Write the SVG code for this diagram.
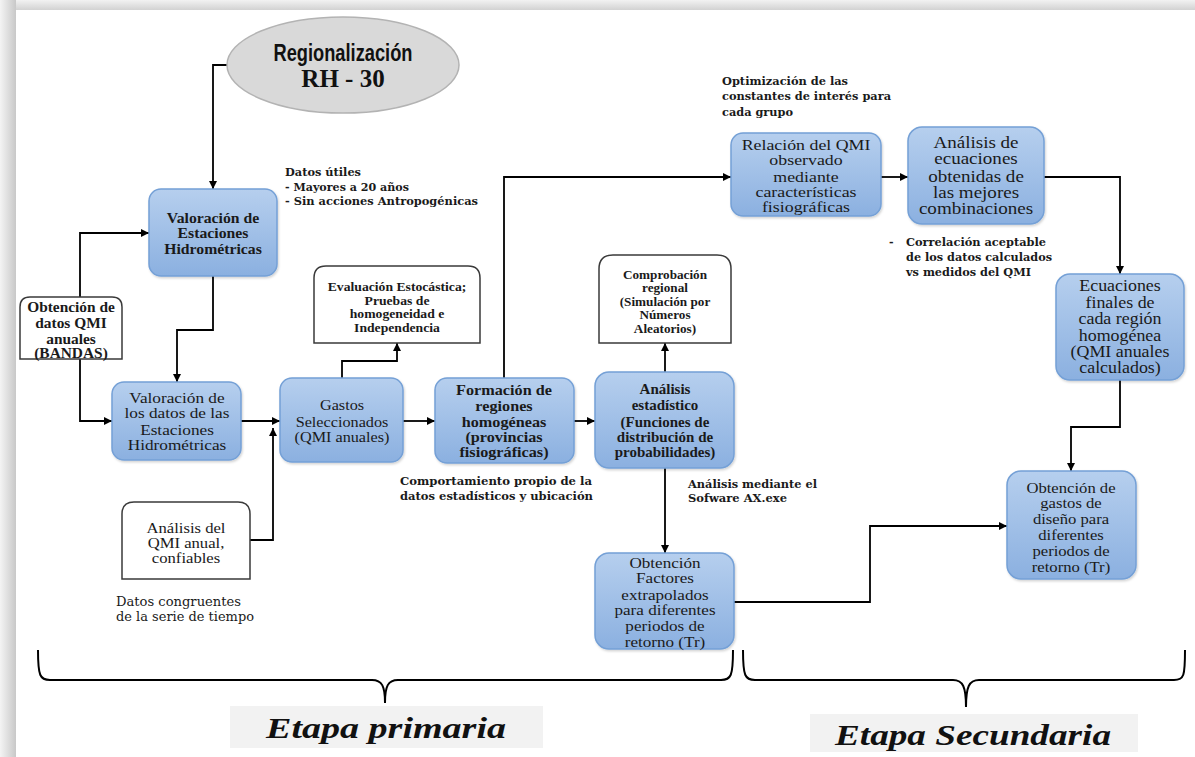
<svg xmlns="http://www.w3.org/2000/svg" width="1195" height="757" viewBox="0 0 1195 757">
<defs>
<linearGradient id="blue" x1="0" y1="0" x2="0" y2="1">
<stop offset="0" stop-color="#b6cfee"/>
<stop offset="1" stop-color="#8bb0e0"/>
</linearGradient>
<linearGradient id="leftEdge" x1="0" y1="0" x2="1" y2="0">
<stop offset="0" stop-color="#f4f4f4"/>
<stop offset="1" stop-color="#c8c8c8"/>
</linearGradient>
<linearGradient id="topEdge" x1="0" y1="0" x2="0" y2="1">
<stop offset="0" stop-color="#f2f2f2"/>
<stop offset="1" stop-color="#d2d2d2"/>
</linearGradient>
<filter id="sh" x="-10%" y="-10%" width="125%" height="125%">
<feDropShadow dx="1" dy="1.5" stdDeviation="1.2" flood-color="#000" flood-opacity="0.18"/>
</filter>
<marker id="arr" markerUnits="userSpaceOnUse" markerWidth="9" markerHeight="8" viewBox="0 0 10 10" refX="10" refY="5" orient="auto">
<path d="M0,0 L10,5 L0,10 z" fill="#000"/>
</marker>
<style>
.bx{fill:url(#blue);stroke:#74a0d6;stroke-width:1.5;filter:url(#sh)}
.wb{fill:#fff;stroke:#3a3a3a;stroke-width:1.5}
.c{fill:none;stroke:#000;stroke-width:1.8}
.t{font-family:"Liberation Serif",serif;font-size:15px;fill:#1a1a1a;text-anchor:middle}
.b{font-weight:bold}
.s{font-family:"Liberation Serif",serif;font-size:12px;font-weight:bold;fill:#1a1a1a;text-anchor:middle}
.a{font-family:"DejaVu Serif",serif;font-size:11.5px;font-weight:bold;fill:#1a1a1a}
.br{fill:none;stroke:#000;stroke-width:2}
.et{font-family:"Liberation Serif",serif;font-size:30px;font-weight:bold;font-style:italic;fill:#111;text-anchor:middle}
</style>
</defs>
<rect width="1195" height="757" fill="#fff"/>
<rect x="0" y="0" width="1195" height="10" fill="url(#topEdge)"/>
<rect x="0" y="0" width="16" height="757" fill="url(#leftEdge)"/>

<g id="connectors">
<path class="c" d="M227,65 H213 V189" marker-end="url(#arr)"/>
<path class="c" d="M80,297 V233 H149" marker-end="url(#arr)"/>
<path class="c" d="M80,359 V421 H112" marker-end="url(#arr)"/>
<path class="c" d="M213,276 V330 H177 V382" marker-end="url(#arr)"/>
<path class="c" d="M241,421 H280" marker-end="url(#arr)"/>
<path class="c" d="M250,540 H273 V428" marker-end="url(#arr)"/>
<path class="c" d="M342,378 V361 H397 V343" marker-end="url(#arr)"/>
<path class="c" d="M403,421 H435" marker-end="url(#arr)"/>
<path class="c" d="M504,378 V177 H731" marker-end="url(#arr)"/>
<path class="c" d="M574,421 H595" marker-end="url(#arr)"/>
<path class="c" d="M665,372 V343" marker-end="url(#arr)"/>
<path class="c" d="M665,468 V553" marker-end="url(#arr)"/>
<path class="c" d="M734,602 H870 V526 H1007" marker-end="url(#arr)"/>
<path class="c" d="M881,177 H908" marker-end="url(#arr)"/>
<path class="c" d="M1044,177 H1120 V274" marker-end="url(#arr)"/>
<path class="c" d="M1120,380 V427 H1071 V471" marker-end="url(#arr)"/>
</g>

<g id="regionalizacion">
<ellipse cx="343" cy="65" rx="116" ry="48" fill="#d9d9d9" stroke="#b3b3b3" stroke-width="1.5"/>
<text x="343" y="61" font-family="Liberation Sans,Arial,sans-serif" font-size="24" font-weight="bold" fill="#111" text-anchor="middle" textLength="139" lengthAdjust="spacingAndGlyphs">Regionalización</text>
<text x="343" y="87" font-family="Liberation Serif,serif" font-size="25" font-weight="bold" fill="#111" text-anchor="middle">RH - 30</text>
</g>

<g id="valoracion-estaciones">
<rect class="bx" x="149" y="189" width="128" height="87" rx="12"/>
<g transform="translate(213,0) scale(1.05,1)">
<text class="t b" x="0" y="223">Valoración de</text>
<text class="t b" x="0" y="238">Estaciones</text>
<text class="t b" x="0" y="254">Hidrométricas</text>
</g>
</g>

<g id="obtencion-datos">
<path class="wb" d="M20,359 V307 Q20,297 30,297 H112 Q122,297 122,307 V359 Z"/>
<g transform="translate(71,0) scale(1.1,1)">
<text class="t b" x="0" y="312" style="font-size:14px">Obtención de</text>
<text class="t b" x="0" y="328" style="font-size:14px">datos QMI</text>
<text class="t b" x="0" y="344" style="font-size:14px">anuales</text>
<text class="t b" x="0" y="358" style="font-size:14px">(BANDAS)</text>
</g>
</g>

<g id="valoracion-datos">
<rect class="bx" x="112" y="382" width="129" height="78" rx="12"/>
<g transform="translate(177,0) scale(1.15,1)">
<text class="t" x="0" y="403">Valoración  de</text>
<text class="t" x="0" y="418">los datos de las</text>
<text class="t" x="0" y="435">Estaciones</text>
<text class="t" x="0" y="450">Hidrométricas</text>
</g>
</g>

<g id="gastos">
<rect class="bx" x="280" y="378" width="123" height="84" rx="12"/>
<g transform="translate(342,0) scale(1.08,1)">
<text class="t" x="0" y="410">Gastos</text>
<text class="t" x="0" y="427">Seleccionados</text>
<text class="t" x="0" y="442">(QMI anuales)</text>
</g>
</g>

<g id="evaluacion">
<path class="wb" d="M314,343 V278 Q314,266 326,266 H468 Q480,266 480,278 V343 Z"/>
<g transform="translate(397,0) scale(1.14,1)">
<text class="s" x="0" y="291">Evaluación Estocástica;</text>
<text class="s" x="0" y="305">Pruebas de</text>
<text class="s" x="0" y="318">homogeneidad e</text>
<text class="s" x="0" y="332">Independencia</text>
</g>
</g>

<g id="formacion">
<rect class="bx" x="435" y="378" width="139" height="85" rx="12"/>
<g transform="translate(504,0) scale(1.08,1)">
<text class="t b" x="0" y="395">Formación de</text>
<text class="t b" x="0" y="411">regiones</text>
<text class="t b" x="0" y="427">homogéneas</text>
<text class="t b" x="0" y="442">(provincias</text>
<text class="t b" x="0" y="457">fisiográficas)</text>
</g>
</g>

<g id="analisis-qmi">
<path class="wb" d="M122,579 V514 Q122,502 134,502 H238 Q250,502 250,514 V579 Z"/>
<g transform="translate(186,0) scale(1.11,1)">
<text class="t" x="0" y="533">Análisis del</text>
<text class="t" x="0" y="548">QMI anual,</text>
<text class="t" x="0" y="563">confiables</text>
</g>
</g>

<g id="comprobacion">
<path class="wb" d="M599,343 V269 Q599,255 613,255 H717 Q731,255 731,269 V343 Z"/>
<g transform="translate(665,0) scale(1.1,1)">
<text class="s" x="0" y="279">Comprobación</text>
<text class="s" x="0" y="292">regional</text>
<text class="s" x="0" y="306">(Simulación por</text>
<text class="s" x="0" y="319">Números</text>
<text class="s" x="0" y="333">Aleatorios)</text>
</g>
</g>

<g id="analisis-estadistico">
<rect class="bx" x="595" y="372" width="139" height="96" rx="14"/>
<text class="t b" x="665" y="394">Análisis</text>
<text class="t b" x="665" y="410">estadístico</text>
<text class="t b" x="665" y="427">(Funciones de</text>
<text class="t b" x="665" y="442">distribución de</text>
<text class="t b" x="665" y="457">probabilidades)</text>
</g>

<g id="obtencion-factores">
<rect class="bx" x="595" y="553" width="139" height="96" rx="14"/>
<g transform="translate(665,0) scale(1.14,1)">
<text class="t" x="0" y="568">Obtención</text>
<text class="t" x="0" y="583">Factores</text>
<text class="t" x="0" y="600">extrapolados</text>
<text class="t" x="0" y="615">para diferentes</text>
<text class="t" x="0" y="631">periodos de</text>
<text class="t" x="0" y="647">retorno (Tr)</text>
</g>
</g>

<g id="relacion">
<rect class="bx" x="731" y="133" width="150" height="83" rx="12"/>
<g transform="translate(806,0) scale(1.19,1)">
<text class="t" x="0" y="150">Relación del QMI</text>
<text class="t" x="0" y="165">observado</text>
<text class="t" x="0" y="182">mediante</text>
<text class="t" x="0" y="197">características</text>
<text class="t" x="0" y="212">fisiográficas</text>
</g>
</g>

<g id="analisis-ecuaciones">
<rect class="bx" x="908" y="127" width="136" height="97" rx="14"/>
<g transform="translate(976,0) scale(1.19,1)">
<text class="t" x="0" y="148" style="font-size:16px">Análisis de</text>
<text class="t" x="0" y="164" style="font-size:16px">ecuaciones</text>
<text class="t" x="0" y="182" style="font-size:16px">obtenidas de</text>
<text class="t" x="0" y="198" style="font-size:16px">las mejores</text>
<text class="t" x="0" y="214" style="font-size:16px">combinaciones</text>
</g>
</g>

<g id="ecuaciones-finales">
<rect class="bx" x="1056" y="274" width="128" height="106" rx="14"/>
<g transform="translate(1120,0) scale(1.12,1)">
<text class="t" x="0" y="291" style="font-size:16px">Ecuaciones</text>
<text class="t" x="0" y="308" style="font-size:16px">finales de</text>
<text class="t" x="0" y="324" style="font-size:16px">cada región</text>
<text class="t" x="0" y="341" style="font-size:16px">homogénea</text>
<text class="t" x="0" y="357" style="font-size:16px">(QMI anuales</text>
<text class="t" x="0" y="373" style="font-size:16px">calculados)</text>
</g>
</g>

<g id="obtencion-gastos">
<rect class="bx" x="1007" y="471" width="129" height="108" rx="14"/>
<g transform="translate(1071,0) scale(1.11,1)">
<text class="t" x="0" y="493">Obtención de</text>
<text class="t" x="0" y="508">gastos de</text>
<text class="t" x="0" y="524">diseño  para</text>
<text class="t" x="0" y="540">diferentes</text>
<text class="t" x="0" y="556">periodos de</text>
<text class="t" x="0" y="572">retorno (Tr)</text>
</g>
</g>

<g id="annotations">
<text class="a" x="285" y="176" textLength="76" lengthAdjust="spacingAndGlyphs">Datos útiles</text>
<text class="a" x="285" y="191" textLength="124" lengthAdjust="spacingAndGlyphs">- Mayores a 20 años</text>
<text class="a" x="285" y="205" textLength="193" lengthAdjust="spacingAndGlyphs">- Sin acciones Antropogénicas</text>
<text class="a" x="722" y="85" style="font-size:11px" textLength="126" lengthAdjust="spacingAndGlyphs">Optimización de las</text>
<text class="a" x="722" y="100" style="font-size:11px" textLength="169" lengthAdjust="spacingAndGlyphs">constantes de interés para</text>
<text class="a" x="722" y="116" style="font-size:11px" textLength="71" lengthAdjust="spacingAndGlyphs">cada grupo</text>
<text class="a" x="889" y="246" style="font-size:11px">-</text>
<text class="a" x="906" y="246" style="font-size:11px" textLength="140" lengthAdjust="spacingAndGlyphs">Correlación aceptable</text>
<text class="a" x="906" y="261" style="font-size:11px" textLength="146" lengthAdjust="spacingAndGlyphs">de los datos calculados</text>
<text class="a" x="906" y="276" style="font-size:11px" textLength="125" lengthAdjust="spacingAndGlyphs">vs medidos del QMI</text>
<text class="a" x="400" y="485" textLength="192" lengthAdjust="spacingAndGlyphs">Comportamiento propio de la</text>
<text class="a" x="400" y="500" textLength="193" lengthAdjust="spacingAndGlyphs">datos estadísticos y ubicación</text>
<text class="a" x="688" y="488" textLength="129" lengthAdjust="spacingAndGlyphs">Análisis mediante el</text>
<text class="a" x="688" y="502" textLength="99" lengthAdjust="spacingAndGlyphs">Sofware AX.exe</text>
<text class="a" x="116" y="606" style="font-weight:normal;font-size:12.5px" textLength="125" lengthAdjust="spacingAndGlyphs">Datos congruentes</text>
<text class="a" x="116" y="621" style="font-weight:normal;font-size:12.5px" textLength="138" lengthAdjust="spacingAndGlyphs">de la serie de tiempo</text>
</g>

<g id="etapa-primaria">
<path class="br" d="M38,650 C38,676 40,680 50,680 L372,680 C382,680 385,686 385,703 C385,686 388,680 398,680 L721,680 C731,680 733,676 733,650"/>
<rect x="230" y="706" width="313" height="42" fill="#f2f2f2"/>
<text class="et" x="386" y="738" textLength="240" lengthAdjust="spacingAndGlyphs">Etapa primaria</text>
</g>

<g id="etapa-secundaria">
<path class="br" d="M743,650 C743,676 745,680 755,680 L953,680 C963,680 966,687 966,707 C966,687 969,680 979,680 L1174,680 C1184,680 1185,676 1185,650"/>
<rect x="810" y="714" width="328" height="38" fill="#f2f2f2"/>
<text class="et" x="973" y="745" textLength="276" lengthAdjust="spacingAndGlyphs">Etapa Secundaria</text>
</g>
</svg>
